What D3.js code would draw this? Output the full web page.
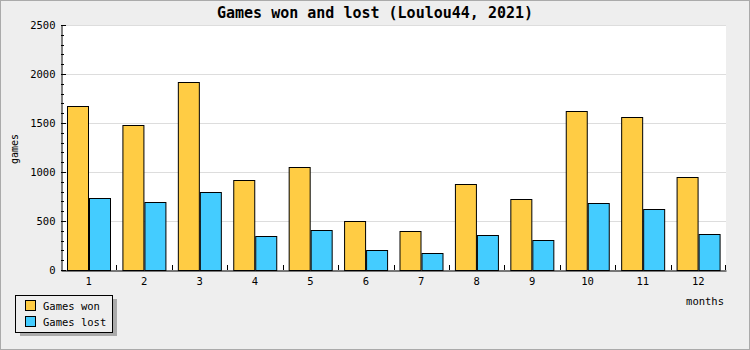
<!DOCTYPE html>
<html><head><meta charset="utf-8">
<script src="https://cdn.jsdelivr.net/npm/d3@7"></script>
<style>body{margin:0;background:#fff}svg{display:block}</style>
</head><body>
<svg id="c" width="750" height="350"></svg>
<script>
const months = ["1","2","3","4","5","6","7","8","9","10","11","12"];
const gamesWon  = [1670,1476,1918,915,1048,500,395,874,721,1619,1558,946];
const gamesLost = [731,690,796,344,405,201,170,354,303,680,619,364];
const seriesNames = ["Games won","Games lost"];
const seriesColors = ["#ffcc44","#44ccff"];
const yTicks = [0,500,1000,1500,2000,2500];
const title = "Games won and lost (Loulou44, 2021)";

const svg = d3.select("#c");
const W=750,H=350;
const m={l:61,r:24,t:25,b:80};
const x0=m.l,x1=W-m.r,y0=H-m.b,y1=m.t;
const font="'DejaVu Sans Mono', 'Liberation Mono', monospace";

svg.append("rect").attr("x",0.5).attr("y",0.5).attr("width",W-1).attr("height",H-1)
  .attr("fill","#eeeeee").attr("stroke","#aaaaaa");
svg.append("rect").attr("x",x0).attr("y",y1).attr("width",x1-x0).attr("height",y0-y1).attr("fill","#fff");

const x = d3.scaleBand().domain(months).range([x0,x1]).paddingInner(0).paddingOuter(0);
const xs = d3.scaleBand().domain(seriesNames).range([0,x.bandwidth()]).paddingInner(0).paddingOuter(0.3);
const y = d3.scaleLinear().domain([0,2500]).range([y0,y1]);

// grid
svg.append("g").selectAll("line").data(yTicks.filter(d=>d>0)).join("line")
  .attr("x1",x0).attr("x2",x1).attr("y1",d=>Math.round(y(d))+0.5).attr("y2",d=>Math.round(y(d))+0.5)
  .attr("stroke","#dddddd");

// bars
const data = months.map((mo,i)=>({mo, vals:[gamesWon[i],gamesLost[i]]}));
const g = svg.append("g").selectAll("g").data(data).join("g").attr("transform",d=>`translate(${x(d.mo)},0)`);
g.selectAll("rect").data(d=>d.vals.map((v,j)=>({v,j}))).join("rect")
  .attr("x",d=>Math.round(xs(seriesNames[d.j]))+0.5)
  .attr("y",d=>Math.round(y(d.v))+0.5)
  .attr("width",Math.round(xs.bandwidth()))
  .attr("height",d=>Math.round(y0)-Math.round(y(d.v)))
  .attr("fill",d=>seriesColors[d.j]).attr("stroke","#000").attr("stroke-width",1);

// y axis
const yAxis = d3.axisLeft(y).tickValues(yTicks).tickSize(0).tickPadding(6).tickFormat(d3.format("d"));
const ya = svg.append("g").attr("transform",`translate(${x0+0.5},0)`).call(yAxis);
ya.select(".domain").attr("stroke","#000");
ya.selectAll("text").attr("font-family",font).attr("font-size","10.5px").attr("fill","#000");
// major/minor ticks inside
const minor = d3.range(0,2501,100);
svg.append("g").selectAll("line").data(minor).join("line")
  .attr("x1",x0).attr("x2",d=>d%500===0?x0+5:x0+3)
  .attr("y1",d=>Math.round(y(d))+0.5).attr("y2",d=>Math.round(y(d))+0.5).attr("stroke","#000");

// x axis
const xa = svg.append("g").attr("transform",`translate(0,${y0+0.5})`)
  .call(d3.axisBottom(x).tickSize(0).tickPadding(7));
xa.select(".domain").attr("stroke","#000");
xa.selectAll("text").attr("font-family",font).attr("font-size","10.5px").attr("fill","#000");
svg.append("g").selectAll("line").data(months.slice(1).concat(["end"])).join("line")
  .attr("x1",d=>d==="end"?x1-0.5:Math.round(x(d))+0.5).attr("x2",d=>d==="end"?x1-0.5:Math.round(x(d))+0.5)
  .attr("y1",y0).attr("y2",y0-5).attr("stroke","#000");

// title
svg.append("text").attr("x",375).attr("y",18).attr("text-anchor","middle")
  .attr("font-family",font).attr("font-size","15px").attr("font-weight","bold").text(title);
// axis titles
svg.append("text").attr("transform","translate(18,149) rotate(-90)").attr("text-anchor","middle")
  .attr("font-family",font).attr("font-size","10px").text("games");
svg.append("text").attr("x",724).attr("y",305).attr("text-anchor","end")
  .attr("font-family",font).attr("font-size","10.5px").text("months");

// legend
const lg = svg.append("g");
lg.append("rect").attr("x",20).attr("y",299).attr("width",97).attr("height",37).attr("fill","#aaaaaa");
lg.append("rect").attr("x",15.5).attr("y",295.5).attr("width",97).attr("height",37).attr("fill","#eeeeee").attr("stroke","#000");
seriesNames.forEach((s,i)=>{
  lg.append("rect").attr("x",25.5).attr("y",300.5+i*16).attr("width",10).attr("height",10)
    .attr("fill",seriesColors[i]).attr("stroke","#000");
  lg.append("text").attr("x",43).attr("y",309.5+i*16).attr("font-family",font).attr("font-size","10.5px").text(s);
});
</script>
</body></html>
